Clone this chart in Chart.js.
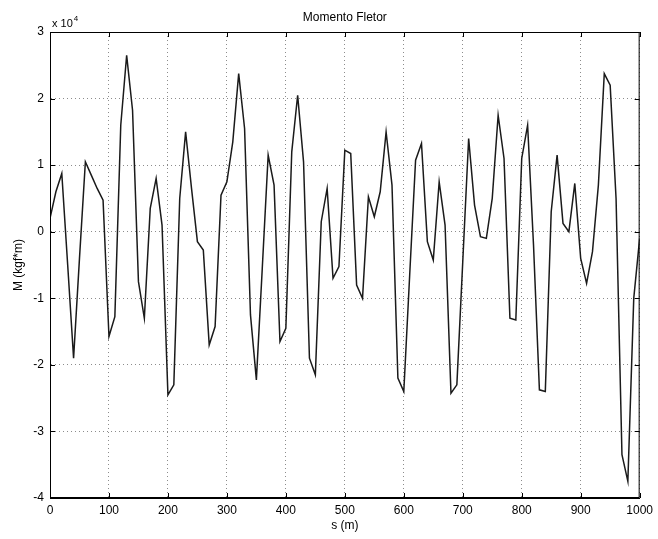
<!DOCTYPE html>
<html>
<head>
<meta charset="utf-8">
<script src="https://cdn.jsdelivr.net/npm/chart.js@4.4.1/dist/chart.umd.min.js"></script>
<style>
  html, body { margin: 0; padding: 0; background: #fff; }
  #wrap { width: 658px; height: 539px; }
</style>
</head>
<body>
<div id="wrap"><canvas id="momentChart" width="658" height="539"></canvas></div>
<script>
'use strict';

// ── Data ───────────────────────────────────────────────────────────────────
// s (m)
const positions = [
  0, 10, 20, 30, 40, 50, 60, 70, 80, 90,
  100, 110, 120, 130, 140, 150, 160, 170, 180, 190,
  200, 210, 220, 230, 240, 250, 260, 270, 280, 290,
  300, 310, 320, 330, 340, 350, 360, 370, 380, 390,
  400, 410, 420, 430, 440, 450, 460, 470, 480, 490,
  500, 510, 520, 530, 540, 550, 560, 570, 580, 590,
  600, 610, 620, 630, 640, 650, 660, 670, 680, 690,
  700, 710, 720, 730, 740, 750, 760, 770, 780, 790,
  800, 810, 820, 830, 840, 850, 860, 870, 880, 890,
  900, 910, 920, 930, 940, 950, 960, 970, 980, 990,
  1000
];

// M (kgf*m), in units of 10^4
const moments = [
  0.2, 0.6, 0.875, -0.5, -1.9, -0.4, 1.05, 0.85, 0.65, 0.475,
  -1.575, -1.275, 1.6, 2.65, 1.825, -0.75, -1.3, 0.35, 0.8, 0.1,
  -2.45, -2.3, 0.5, 1.5, 0.65, -0.15, -0.275, -1.7, -1.425, 0.55,
  0.75, 1.35, 2.375, 1.55, -1.25, -2.225, -0.55, 1.15, 0.7, -1.65,
  -1.45, 1.2, 2.05, 1.05, -1.9, -2.15, 0.15, 0.65, -0.7, -0.525,
  1.225, 1.175, -0.8, -1.0, 0.525, 0.225, 0.6, 1.5, 0.7, -2.2,
  -2.4, -0.65, 1.075, 1.325, -0.15, -0.425, 0.75, 0.1, -2.425, -2.3,
  -0.45, 1.4, 0.4, -0.075, -0.1, 0.5, 1.75, 1.1, -1.3, -1.325,
  1.1, 1.6, -0.2, -2.375, -2.4, 0.3, 1.15, 0.125, 0.0, 0.725,
  -0.4, -0.775, -0.3, 0.7, 2.375, 2.2, 0.5, -3.35, -3.75, -1.0,
  -0.1
];

const xTicks = [0, 100, 200, 300, 400, 500, 600, 700, 800, 900, 1000];
const yTicks = [-4, -3, -2, -1, 0, 1, 2, 3];
const yExponent = '4';

// ── Style ──────────────────────────────────────────────────────────────────
const FONT = "'Liberation Sans', Arial, sans-serif";
const INK  = '#000';
const GRID = '#8c8c8c';
const TICK_LEN = 5;

// MATLAB-ish box: full frame, inward ticks on all four sides, "x 10^4" tag
const matlabBox = {
  id: 'matlabBox',
  afterDraw(chart) {
    const { ctx, chartArea: a, scales } = chart;
    ctx.save();
    ctx.strokeStyle = INK;
    ctx.lineWidth = 1;
    ctx.strokeRect(a.left + 0.5, a.top + 0.5, a.right - a.left - 1, a.bottom - a.top - 1);

    ctx.beginPath();
    xTicks.forEach(v => {
      const px = Math.round(scales.x.getPixelForValue(v)) + 0.5;
      ctx.moveTo(px, a.bottom); ctx.lineTo(px, a.bottom - TICK_LEN);
      ctx.moveTo(px, a.top);    ctx.lineTo(px, a.top + TICK_LEN);
    });
    yTicks.forEach(v => {
      const py = Math.round(scales.y.getPixelForValue(v)) + 0.5;
      ctx.moveTo(a.left, py);  ctx.lineTo(a.left + TICK_LEN, py);
      ctx.moveTo(a.right, py); ctx.lineTo(a.right - TICK_LEN, py);
    });
    ctx.stroke();

    // exponent tag above the y axis
    ctx.fillStyle = INK;
    ctx.textBaseline = 'middle';
    ctx.textAlign = 'left';
    ctx.font = `11px ${FONT}`;
    const base = 'x 10';
    const bx = a.left + 2;
    ctx.fillText(base, bx, a.top - 8);
    const w = ctx.measureText(base).width;
    ctx.font = `8px ${FONT}`;
    ctx.fillText(yExponent, bx + w + 1, a.top - 13);
    ctx.restore();
  }
};

const ctx = document.getElementById('momentChart').getContext('2d');

new Chart(ctx, {
  type: 'line',
  data: {
    datasets: [{
      label: 'M',
      data: positions.map((s, i) => ({ x: s, y: moments[i] })),
      borderColor: '#1a1a1a',
      borderWidth: 1.5,
      pointRadius: 0,
      tension: 0,
      fill: false,
    }],
  },
  options: {
    responsive: false,
    animation: false,
    devicePixelRatio: 1,
    layout: { padding: { left: 4, right: 18, top: 0, bottom: 0 } },
    plugins: {
      legend: { display: false },
      tooltip: { enabled: false },
      title: {
        display: true,
        text: 'Momento Fletor',
        fullSize: false,
        color: INK,
        font: { family: FONT, size: 12, weight: 'normal' },
        padding: { top: 10, bottom: 7.6 },
      },
    },
    scales: {
      x: {
        type: 'linear',
        min: 0,
        max: 1000,
        afterBuildTicks: (s) => { s.ticks = xTicks.map(v => ({ value: v })); },
        afterFit: (s) => { s.height = 41; },
        grid: { color: GRID, drawTicks: false, lineWidth: 1 },
        border: { display: true, color: INK, dash: [1, 3] },
        ticks: {
          color: INK,
          font: { family: FONT, size: 12 },
          padding: 5,
          maxRotation: 0,
          callback: (v) => String(v),
        },
        title: {
          display: true,
          text: 's (m)',
          color: INK,
          font: { family: FONT, size: 12 },
          padding: { top: 0, bottom: 6 },
        },
      },
      y: {
        type: 'linear',
        min: -4,
        max: 3,
        afterBuildTicks: (s) => { s.ticks = yTicks.map(v => ({ value: v })); },
        afterFit: (s) => { s.width = 46; },
        grid: { color: GRID, drawTicks: false, lineWidth: 1 },
        border: { display: true, color: INK, dash: [1, 3] },
        ticks: {
          color: INK,
          font: { family: FONT, size: 12 },
          padding: 6,
          callback: (v) => String(v),
        },
        title: {
          display: true,
          text: 'M (kgf*m)',
          color: INK,
          font: { family: FONT, size: 12 },
          padding: { top: 7, bottom: 0 },
        },
      },
    },
  },
  plugins: [matlabBox],
});
</script>
</body>
</html>
